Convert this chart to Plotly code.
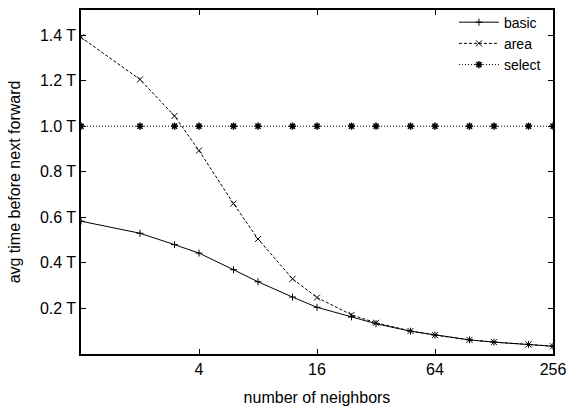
import plotly.graph_objects as go

neighbors = [1, 2, 3, 4, 6, 8, 12, 16, 24, 32, 48, 64, 96, 128, 192, 256]
basic = [0.583, 0.53, 0.48, 0.443, 0.37, 0.317, 0.25, 0.205, 0.163, 0.133, 0.1, 0.083, 0.062, 0.052, 0.042, 0.034]
area = [1.39, 1.205, 1.045, 0.893, 0.66, 0.505, 0.33, 0.248, 0.172, 0.137, 0.101, 0.083, 0.062, 0.052, 0.042, 0.034]
select = [1.0] * 16

y_tickvals = [0.2, 0.4, 0.6, 0.8, 1.0, 1.2, 1.4]
y_ticktext = ["0.2 T", "0.4 T", "0.6 T", "0.8 T", "1.0 T", "1.2 T", "1.4 T"]
x_tickvals = [4, 16, 64, 256]
x_ticktext = ["4", "16", "64", "256"]

fig = go.Figure()
fig.add_trace(go.Scatter(x=neighbors, y=basic, name="basic", mode="lines+markers",
                         line=dict(color="black", width=1, dash="solid"),
                         marker=dict(symbol="cross-thin", size=5, color="black",
                                     line=dict(color="black", width=1))))
fig.add_trace(go.Scatter(x=neighbors, y=area, name="area", mode="lines+markers",
                         line=dict(color="black", width=1, dash="3px,2px"),
                         marker=dict(symbol="x-thin", size=6, color="black",
                                     line=dict(color="black", width=1))))
fig.add_trace(go.Scatter(x=neighbors, y=select, name="select", mode="lines+markers",
                         line=dict(color="black", width=1, dash="1px,2px"),
                         marker=dict(symbol="asterisk", size=6, color="black",
                                     line=dict(color="black", width=1.5))))

font = "Liberation Sans, Arial, Helvetica, sans-serif"
fig.update_layout(
    width=570, height=408,
    margin=dict(l=81, r=17, t=7, b=54),
    paper_bgcolor="white", plot_bgcolor="white",
    font=dict(family=font, size=16, color="black"),
    showlegend=True,
    legend=dict(x=0.985, xanchor="right", y=1.01, yanchor="top",
                bgcolor="rgba(0,0,0,0)", font=dict(size=14),
                tracegroupgap=0, itemwidth=40),
)
fig.update_xaxes(type="log", range=[0, 2.40824], tickvals=x_tickvals, ticktext=x_ticktext,
                 showline=True, linecolor="black", linewidth=1.5, mirror="allticks",
                 ticks="inside", ticklen=5, tickcolor="black", showgrid=False, zeroline=False,
                 automargin=False, tickfont=dict(size=16),
                 title=dict(text="number of neighbors", standoff=15, font=dict(size=16)))
fig.update_yaxes(range=[0, 1.51], tickvals=y_tickvals, ticktext=y_ticktext,
                 showline=True, linecolor="black", linewidth=1.5, mirror="allticks",
                 ticks="inside", ticklen=5, tickcolor="black", showgrid=False, zeroline=False,
                 automargin=False, tickfont=dict(size=16),
                 title=dict(text="avg time before next forward", standoff=15, font=dict(size=16)))

fig.write_html("out.html", config={"displayModeBar": False},
               post_script="document.body.style.margin='0px';")
